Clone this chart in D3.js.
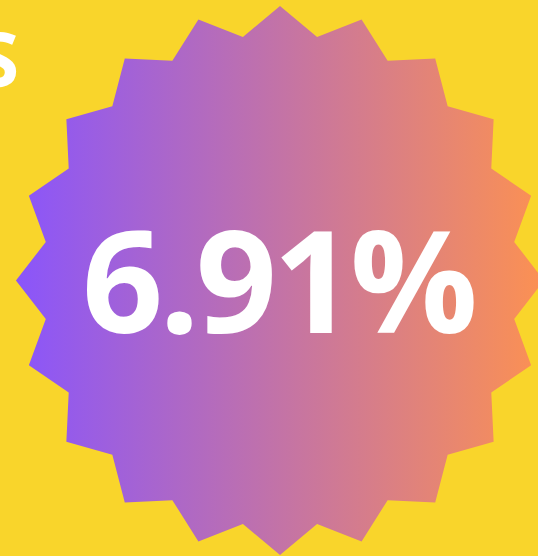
<!DOCTYPE html>
<html>
<head>
<meta charset="utf-8">
<script src="https://cdn.jsdelivr.net/npm/d3@7"></script>
<style>
  html, body { margin: 0; padding: 0; background: #F9D52B; }
  svg { display: block; }
</style>
</head>
<body>
<svg width="538" height="556"></svg>
<script>
var width = 538, height = 556;

// value shown in the badge
var labels = ['6.91%'];
var values = [6.91];
// title text, mostly off the left edge
var titleText = ['S'];

var svg = d3.select('svg');

var defs = svg.append('defs');
var grad = defs.append('linearGradient')
    .attr('id', 'badgeGrad')
    .attr('x1', '0%').attr('x2', '100%')
    .attr('y1', '0%').attr('y2', '0%');
grad.append('stop').attr('offset', '0%').attr('stop-color', '#8A55FB');
grad.append('stop').attr('offset', '100%').attr('stop-color', '#FC9152');

// starburst: 20 spikes, alternating outer / inner radius
var spikes = 20, outerR = 274.5, innerR = 246.5;
var pts = d3.range(spikes * 2).map(function(i) {
    return [i * Math.PI / spikes, i % 2 === 0 ? outerR : innerR];
});

var star = d3.lineRadial()
    .angle(function(d) { return d[0]; })
    .radius(function(d) { return d[1]; })
    .curve(d3.curveLinearClosed);

var g = svg.append('g')
    .attr('transform', 'translate(280,280.5)');

g.append('path')
    .datum(pts)
    .attr('d', star)
    .attr('transform', 'scale(0.962,1)')
    .style('fill', 'url(#badgeGrad)');

g.selectAll('text.value')
    .data(values)
    .enter()
    .append('text')
    .attr('class', 'value')
    .attr('x', -2)
    .attr('y', 52)
    .attr('text-anchor', 'middle')
    .style('font-family', '"Open Sans", sans-serif')
    .style('font-weight', 700)
    .style('font-size', '142px')
    .style('letter-spacing', '-4px')
    .style('fill', '#fff')
    .text(function(d, i) { return labels[i]; });

svg.append('text')
    .attr('x', 19)
    .attr('y', 87)
    .attr('text-anchor', 'end')
    .style('font-family', '"Open Sans", sans-serif')
    .style('font-weight', 700)
    .style('font-size', '76px')
    .style('fill', '#fff')
    .text(titleText[0]);
</script>
</body>
</html>
